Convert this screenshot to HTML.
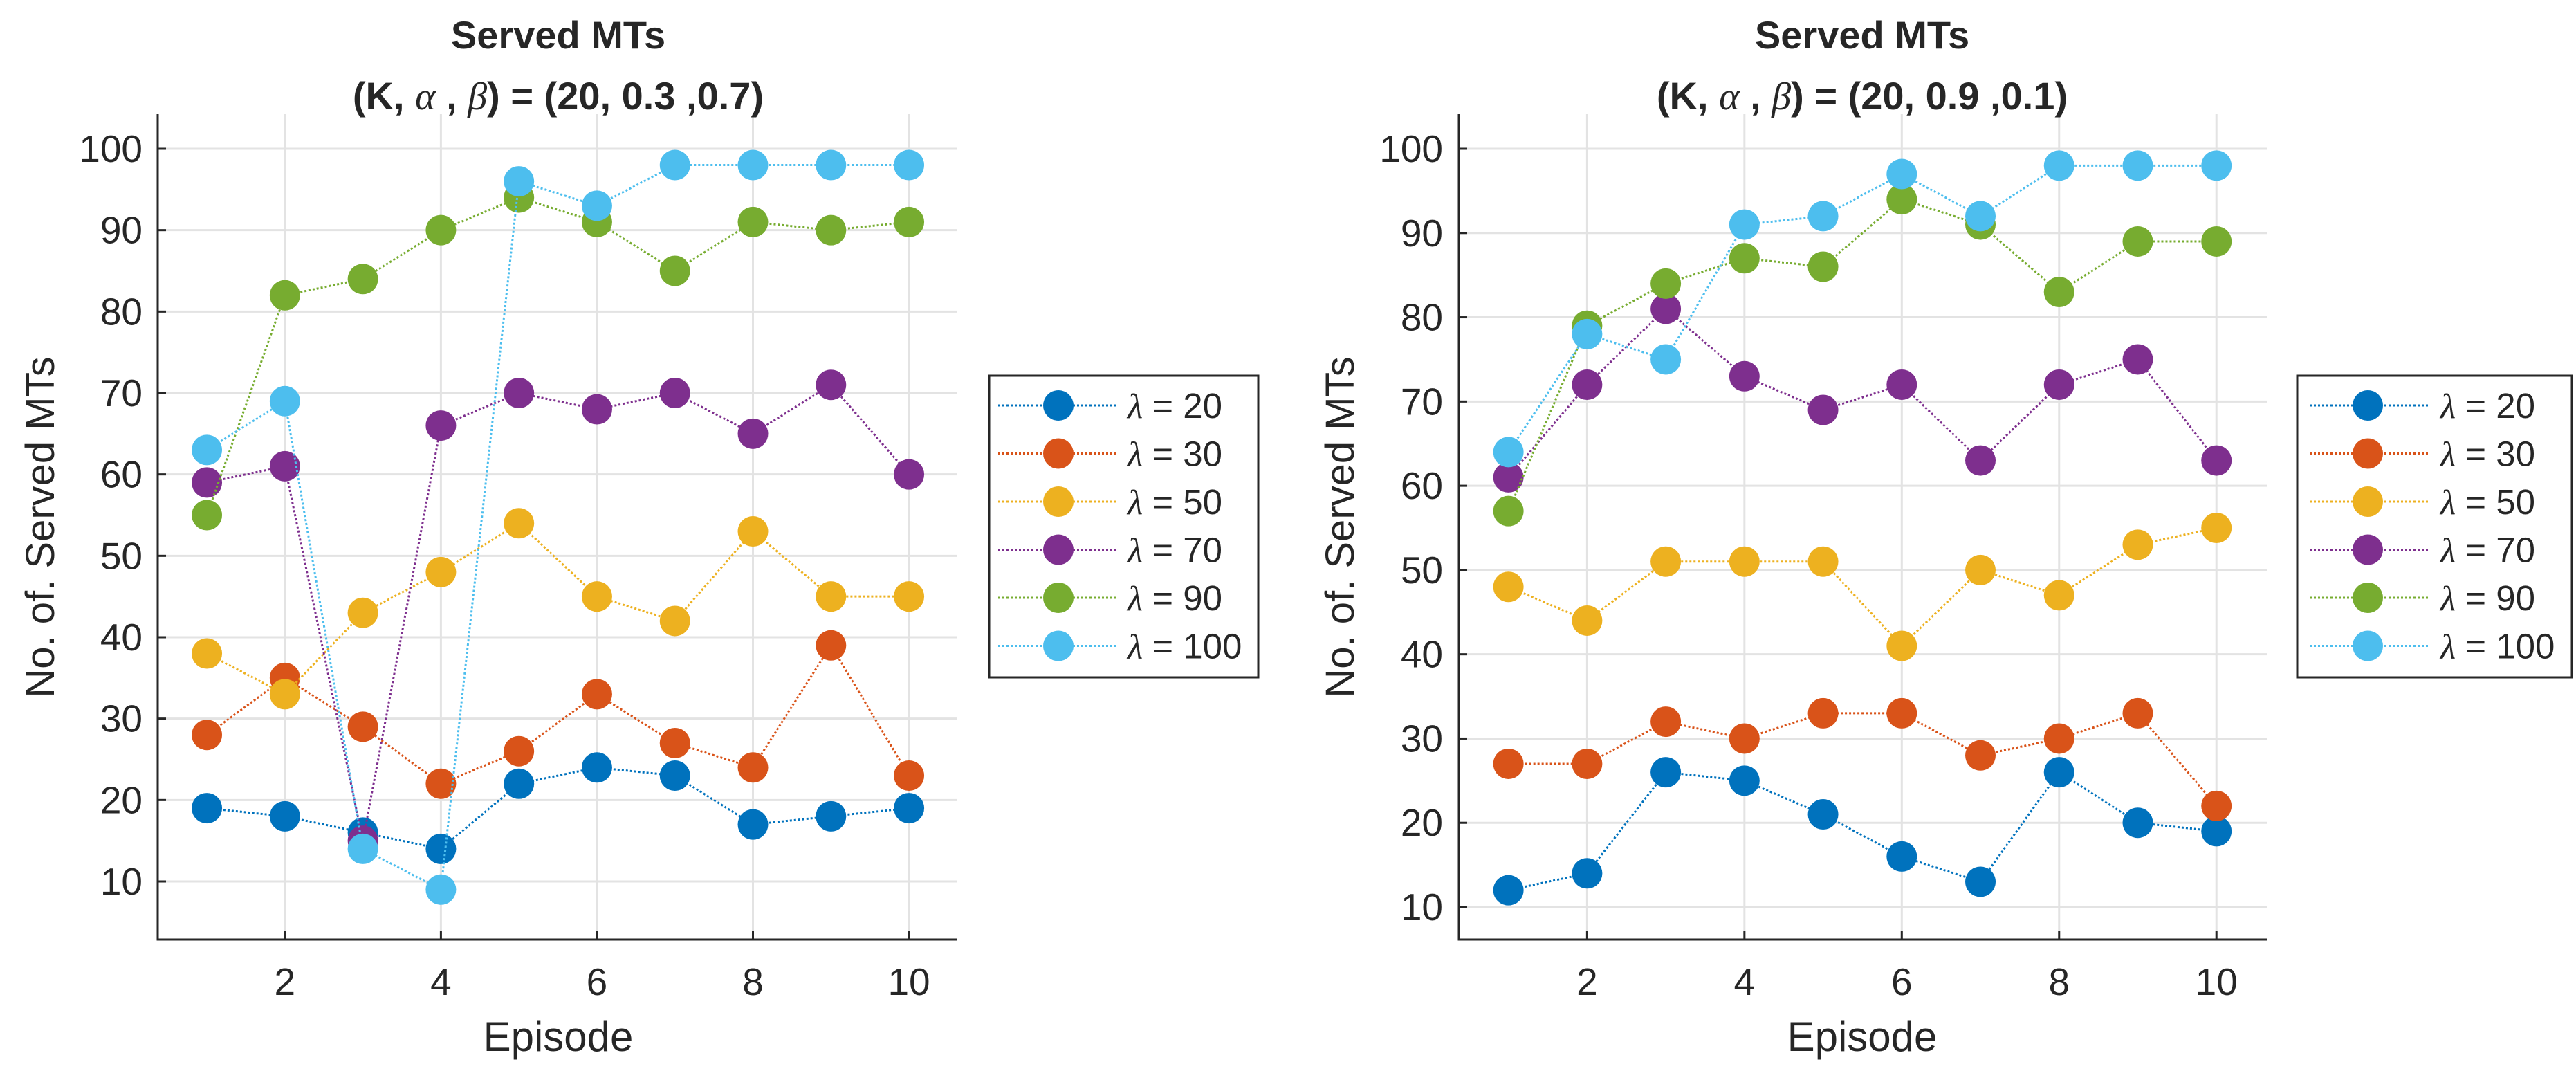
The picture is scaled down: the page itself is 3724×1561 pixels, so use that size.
<!DOCTYPE html>
<html><head><meta charset="utf-8"><style>
html,body{margin:0;padding:0;background:#fff}
svg{display:block}
text{font-family:"Liberation Sans",Arial,sans-serif;fill:#262626}
</style></head><body>
<svg id="chart" width="3724" height="1561" viewBox="0 0 3724 1561" xmlns="http://www.w3.org/2000/svg"></svg>
<script>
const episodes = [1,2,3,4,5,6,7,8,9,10];
const seriesLabels = ["20","30","50","70","90","100"];
const xTicks = [2,4,6,8,10];
const yTicks = [10,20,30,40,50,60,70,80,90,100];
const left20 = [19,18,16,14,22,24,23,17,18,19];
const left30 = [28,35,29,22,26,33,27,24,39,23];
const left50 = [38,33,43,48,54,45,42,53,45,45];
const left70 = [59,61,15,66,70,68,70,65,71,60];
const left90 = [55,82,84,90,94,91,85,91,90,91];
const left100 = [63,69,14,9,96,93,98,98,98,98];
const right20 = [12,14,26,25,21,16,13,26,20,19];
const right30 = [27,27,32,30,33,33,28,30,33,22];
const right50 = [48,44,51,51,51,41,50,47,53,55];
const right70 = [61,72,81,73,69,72,63,72,75,63];
const right90 = [57,79,84,87,86,94,91,83,89,89];
const right100 = [64,78,75,91,92,97,92,98,98,98];
const colors = ["#0072BD","#D95319","#EDB120","#7E2F8E","#77AC30","#4DBEEE"];

const NS = "http://www.w3.org/2000/svg";
const svg = document.getElementById('chart');
function mk(tag, attrs, parent){const e=document.createElementNS(NS,tag);for(const k in attrs)e.setAttribute(k,attrs[k]);(parent||svg).appendChild(e);return e;}

const panels = [
 {name:'left', L:228, R:1384, T:165, B:1358, xmin:0.37, xmax:10.62, y100:215, y10:1274, ylabX:206, titleX:807, yTitleX:78,
  t2:'(20, 0.3 ,0.7)', data:[left20,left30,left50,left70,left90,left100],
  leg:{x1:1430,x2:1819,y1:543,y2:979,l1:1443,l2:1615,m:1530,tx:1630,r0:586}},
 {name:'right', L:2109, R:3277, T:165, B:1358, xmin:0.37, xmax:10.64, y100:215, y10:1311, ylabX:2086, titleX:2692, yTitleX:1957,
  t2:'(20, 0.9 ,0.1)', data:[right20,right30,right50,right70,right90,right100],
  leg:{x1:3321,x2:3718,y1:543,y2:979,l1:3339,l2:3510,m:3423,tx:3528,r0:586}}
];

panels.forEach(p=>{
  const g = mk('g',{});
  
  
  const x = v => p.L + (v - p.xmin) / (p.xmax - p.xmin) * (p.R - p.L);
  const y = v => p.y100 + (100 - v) * (p.y10 - p.y100) / 90;
  xTicks.forEach(t=>{
    const l = mk('line',{x1:x(t),x2:x(t),y1:p.T,y2:p.B,stroke:'#e3e3e3','stroke-width':3},g);
    
    
  });
  yTicks.forEach(t=>{
    const l = mk('line',{x1:p.L,x2:p.R,y1:y(t),y2:y(t),stroke:'#e3e3e3','stroke-width':3},g);
    
    
  });
  const ax = mk('path',{d:`M${p.L},${p.T} L${p.L},${p.B} L${p.R},${p.B}`,fill:'none',stroke:'#262626','stroke-width':3},g);
  
  
  xTicks.forEach(t=>{
    mk('line',{x1:x(t),x2:x(t),y1:p.B,y2:p.B-12,stroke:'#262626','stroke-width':3},g);
    const tx = mk('text',{x:x(t),y:1438,'text-anchor':'middle','font-size':55},g);
    tx.textContent = t;
    
    
  });
  yTicks.forEach(t=>{
    mk('line',{x1:p.L,x2:p.L+12,y1:y(t),y2:y(t),stroke:'#262626','stroke-width':3},g);
    const tx = mk('text',{x:p.ylabX,y:y(t)+19,'text-anchor':'end','font-size':55},g);
    tx.textContent = t;
    
    
  });
  p.data.forEach((arr,si)=>{
    const sg = mk('g',{},g);
    
    
    const pts = arr.map((v,i)=>x(episodes[i])+','+y(v)).join(' ');
    mk('polyline',{points:pts,fill:'none',stroke:colors[si],'stroke-width':3,'stroke-dasharray':'3 3'},sg);
    arr.forEach((v,i)=>{
      const c = mk('circle',{cx:x(episodes[i]),cy:y(v),r:22,fill:colors[si]},sg);
      
      
    });
  });
  const t1 = mk('text',{x:p.titleX,y:70,'text-anchor':'middle','font-size':56,'font-weight':'bold'},g);
  t1.textContent = 'Served MTs';
  
  
  const t2 = mk('text',{x:p.titleX,y:158,'text-anchor':'middle','font-size':56,'font-weight':'bold'},g);
  t2.innerHTML = '(K, <tspan font-family="Liberation Serif" font-style="italic" font-weight="normal">α</tspan> , <tspan font-family="Liberation Serif" font-style="italic" font-weight="normal">β</tspan>) = '+p.t2;
  
  
  const yt = mk('text',{x:p.yTitleX,y:762,'text-anchor':'middle','font-size':58,transform:`rotate(-90 ${p.yTitleX} 762)`},g);
  yt.textContent = 'No. of. Served MTs';
  
  
  const xt = mk('text',{x:p.titleX,y:1519,'text-anchor':'middle','font-size':60},g);
  xt.textContent = 'Episode';
  
  
  const lg = mk('g',{},g);
  
  
  const L = p.leg;
  mk('rect',{x:L.x1,y:L.y1,width:L.x2-L.x1,height:L.y2-L.y1,fill:'#fff',stroke:'#262626','stroke-width':3},lg);
  seriesLabels.forEach((s,si)=>{
    const ry = L.r0 + si*69.5;
    const e = mk('g',{},lg);
    
    
    mk('line',{x1:L.l1,x2:L.l2,y1:ry,y2:ry,stroke:colors[si],'stroke-width':3,'stroke-dasharray':'3 3'},e);
    mk('circle',{cx:L.m,cy:ry,r:22,fill:colors[si]},e);
    const tx = mk('text',{x:L.tx,y:ry+18,'font-size':51},e);
    tx.innerHTML = '<tspan font-family="Liberation Serif" font-style="italic">λ</tspan> = '+s;
  });
});
</script>
</body></html>
